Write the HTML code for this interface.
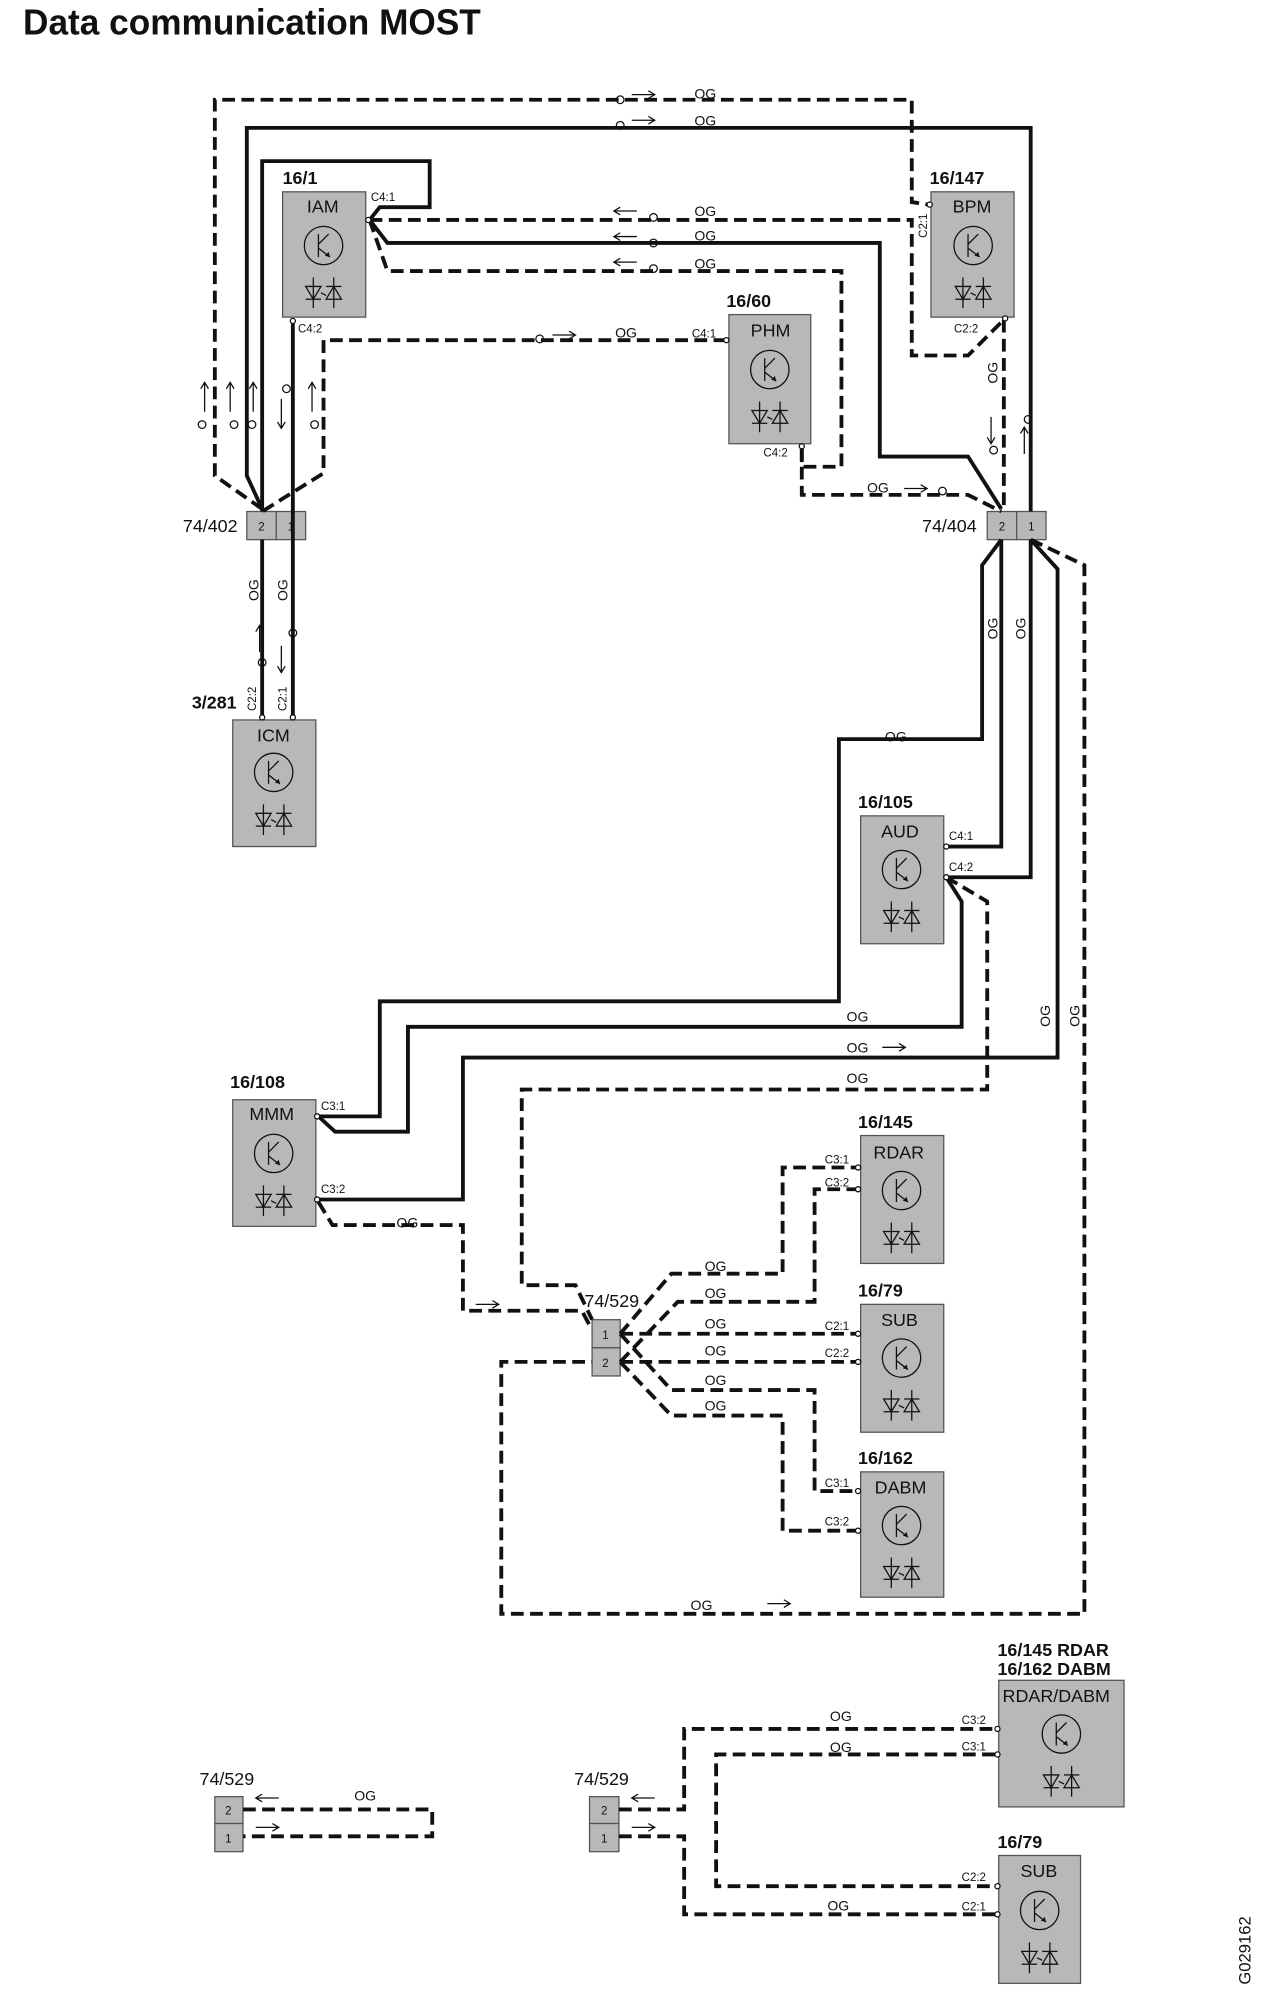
<!DOCTYPE html>
<html><head><meta charset="utf-8"><style>
html,body{margin:0;padding:0;background:#fff;}
svg{display:block;}
text{font-family:"Liberation Sans",sans-serif;fill:#111;}
.s{fill:none;stroke:#111;stroke-width:3;stroke-linejoin:miter;}
.d{fill:none;stroke:#111;stroke-width:3;stroke-dasharray:10 5;}
.box{fill:#b8b8b8;stroke:#555;stroke-width:1;}
.lab{font-size:11px;}
.pin{font-size:9px;}
.hd{font-size:14px;font-weight:bold;}
.nm{font-size:14px;}
.th{fill:none;stroke:#111;stroke-width:1;}
.pc{fill:#fff;stroke:#111;stroke-width:1;}
</style></head><body>
<svg width="1266" height="2000" viewBox="0 0 990 1564" xmlns="http://www.w3.org/2000/svg">
<defs>
<g id="ic">
<circle cx="0" cy="0" r="15" class="th"/>
<line x1="-4" y1="-9" x2="-4" y2="9" class="th"/>
<line x1="-4" y1="-1" x2="4" y2="-9" class="th"/>
<line x1="-4" y1="2" x2="5" y2="9" class="th"/>
<polygon points="5,9 1,8 4,5" fill="#111"/>
<g transform="translate(0,37)">
<line x1="-8" y1="-12" x2="-8" y2="12" class="th"/>
<line x1="8" y1="-12" x2="8" y2="12" class="th"/>
<polygon points="-14,-5 -2,-5 -8,5" class="th"/>
<line x1="-14" y1="5" x2="-2" y2="5" class="th"/>
<polygon points="2,5 14,5 8,-5" class="th"/>
<line x1="2" y1="-5" x2="14" y2="-5" class="th"/>
<line x1="-2" y1="0" x2="2" y2="2" class="th"/>
</g>
</g>
<path id="ar" d="M0,0 H18 M13,-3 L18,0 L13,3" class="th"/>
<path id="al" d="M0,0 H18 M5,-3 L0,0 L5,3" class="th"/>
</defs>

<text x="18" y="27" style="font-size:28px;font-weight:bold" textLength="358" lengthAdjust="spacingAndGlyphs">Data communication MOST</text>

<!-- Modules -->
<rect class="box" x="221" y="150" width="65" height="98"/>
<text class="hd" x="221" y="144">16/1</text><text class="nm" x="240" y="166">IAM</text>
<use href="#ic" x="253" y="192"/>

<rect class="box" x="728" y="150" width="65" height="98"/>
<text class="hd" x="727" y="144">16/147</text><text class="nm" x="745" y="166">BPM</text>
<use href="#ic" x="761" y="192"/>

<rect class="box" x="570" y="246" width="64" height="101"/>
<text class="hd" x="568" y="240">16/60</text><text class="nm" x="587" y="263">PHM</text>
<use href="#ic" x="602" y="289"/>

<rect class="box" x="182" y="563" width="65" height="99"/>
<text class="hd" x="150" y="554">3/281</text><text class="nm" x="201" y="580">ICM</text>
<use href="#ic" x="214" y="604"/>

<rect class="box" x="673" y="638" width="65" height="100"/>
<text class="hd" x="671" y="632">16/105</text><text class="nm" x="689" y="655">AUD</text>
<use href="#ic" x="705" y="680"/>

<rect class="box" x="182" y="860" width="65" height="99"/>
<text class="hd" x="180" y="851">16/108</text><text class="nm" x="195" y="876">MMM</text>
<use href="#ic" x="214" y="902"/>

<rect class="box" x="673" y="888" width="65" height="100"/>
<text class="hd" x="671" y="882">16/145</text><text class="nm" x="683" y="906">RDAR</text>
<use href="#ic" x="705" y="931"/>

<rect class="box" x="673" y="1020" width="65" height="100"/>
<text class="hd" x="671" y="1014">16/79</text><text class="nm" x="689" y="1037">SUB</text>
<use href="#ic" x="705" y="1062"/>

<rect class="box" x="673" y="1151" width="65" height="98"/>
<text class="hd" x="671" y="1145">16/162</text><text class="nm" x="684" y="1168">DABM</text>
<use href="#ic" x="705" y="1193"/>

<rect class="box" x="781" y="1314" width="98" height="99"/>
<text class="hd" x="780" y="1295">16/145 RDAR</text><text class="hd" x="780" y="1310">16/162 DABM</text>
<text class="nm" x="784" y="1331">RDAR/DABM</text>
<use href="#ic" x="830" y="1356"/>

<rect class="box" x="781" y="1451" width="64" height="100"/>
<text class="hd" x="780" y="1445">16/79</text><text class="nm" x="798" y="1468">SUB</text>
<use href="#ic" x="813" y="1494"/>

<!-- Connectors -->
<rect class="box" x="193" y="400" width="23" height="22"/><rect class="box" x="216" y="400" width="23" height="22"/>
<text class="pin" x="202" y="415">2</text><text class="pin" x="225" y="415">1</text>
<text class="nm" x="143" y="416">74/402</text>
<rect class="box" x="772" y="400" width="23" height="22"/><rect class="box" x="795" y="400" width="23" height="22"/>
<text class="pin" x="781" y="415">2</text><text class="pin" x="804" y="415">1</text>
<text class="nm" x="721" y="416">74/404</text>
<rect class="box" x="463" y="1032" width="22" height="22"/><rect class="box" x="463" y="1054" width="22" height="22"/>
<text class="pin" x="471" y="1047">1</text><text class="pin" x="471" y="1069">2</text>
<text class="nm" x="457" y="1022">74/529</text>
<rect class="box" x="168" y="1405" width="22" height="21"/><rect class="box" x="168" y="1426" width="22" height="22"/>
<text class="pin" x="176" y="1419">2</text><text class="pin" x="176" y="1441">1</text>
<text class="nm" x="156" y="1396">74/529</text>
<rect class="box" x="461" y="1405" width="23" height="21"/><rect class="box" x="461" y="1426" width="23" height="22"/>
<text class="pin" x="470" y="1419">2</text><text class="pin" x="470" y="1441">1</text>
<text class="nm" x="449" y="1396">74/529</text>

<!-- Top section wires -->
<path class="d" d="M205,398 L168,372 L168,78 L713,78 L713,158 L726,160"/>
<path class="s" d="M205,398 L193,372 L193,100 L806,100 L806,400"/>
<path class="s" d="M205,400 L205,126 L336,126 L336,162 L297,162 L289,172"/>
<path class="d" d="M289,172 L713,172 L713,278 L757,278 L785,250"/>
<path class="s" d="M289,172 L303,190 L688,190 L688,357 L757,357 L783,398"/>
<path class="d" d="M289,172 L303,212 L658,212 L658,365 L627,365 L627,350"/>
<path class="d" d="M627,350 L627,387 L757,387 L783,400"/>
<path class="d" d="M785,250 L785,400"/>
<path class="s" d="M229,250 L229,563"/>
<path class="s" d="M205,422 L205,563"/>
<path class="d" d="M568,266 L253,266 L253,370 L205,400"/>

<!-- pin labels top -->
<text class="pin" x="290" y="157">C4:1</text>
<text class="pin" x="233" y="260">C4:2</text>
<text class="pin" x="541" y="264">C4:1</text>
<text class="pin" x="597" y="357">C4:2</text>
<text class="pin" x="746" y="260">C2:2</text>
<text class="pin" transform="translate(725,186) rotate(-90)">C2:1</text>
<text class="pin" transform="translate(200,556) rotate(-90)">C2:2</text>
<text class="pin" transform="translate(224,556) rotate(-90)">C2:1</text>
<circle class="pc" cx="229" cy="251" r="2"/><circle class="pc" cx="288" cy="172" r="2"/>
<circle class="pc" cx="568" cy="266" r="2"/><circle class="pc" cx="627" cy="349" r="2"/>
<circle class="pc" cx="727" cy="160" r="2"/><circle class="pc" cx="786" cy="249" r="2"/>
<circle class="pc" cx="205" cy="561" r="2"/><circle class="pc" cx="229" cy="561" r="2"/>

<!-- OG labels -->
<g class="lab">
<text x="543" y="77">OG</text><text x="543" y="98">OG</text>
<text x="543" y="169">OG</text><text x="543" y="188">OG</text><text x="543" y="210">OG</text>
<text x="481" y="264">OG</text><text x="678" y="385">OG</text>
<text transform="translate(202,470) rotate(-90)">OG</text>
<text transform="translate(225,470) rotate(-90)">OG</text>
<text transform="translate(780,300) rotate(-90)">OG</text>
<text transform="translate(780,500) rotate(-90)">OG</text>
<text transform="translate(802,500) rotate(-90)">OG</text>
<text transform="translate(821,803) rotate(-90)">OG</text>
<text transform="translate(844,803) rotate(-90)">OG</text>
<text x="692" y="580">OG</text>
<text x="662" y="799">OG</text><text x="662" y="823">OG</text><text x="662" y="847">OG</text>
<text x="310" y="960">OG</text>
<text x="551" y="994">OG</text><text x="551" y="1015">OG</text><text x="551" y="1039">OG</text>
<text x="551" y="1060">OG</text><text x="551" y="1083">OG</text><text x="551" y="1103">OG</text>
<text x="540" y="1259">OG</text>
<text x="277" y="1408">OG</text>
<text x="649" y="1346">OG</text><text x="649" y="1370">OG</text><text x="647" y="1494">OG</text>
</g>
<!-- horizontal arrows -->
<use href="#ar" x="494" y="74"/><use href="#ar" x="494" y="94"/>
<use href="#al" x="480" y="165"/><use href="#al" x="480" y="185"/><use href="#al" x="480" y="205"/>
<use href="#ar" x="432" y="262"/><use href="#ar" x="707" y="382"/>
<use href="#ar" x="690" y="819"/><use href="#ar" x="372" y="1020"/><use href="#ar" x="600" y="1254"/>
<use href="#al" x="200" y="1406"/><use href="#ar" x="200" y="1429"/>
<use href="#al" x="494" y="1406"/><use href="#ar" x="494" y="1429"/>
<g class="th">
<circle cx="485" cy="78" r="3"/><circle cx="485" cy="98" r="3"/>
<circle cx="511" cy="170" r="3"/><circle cx="511" cy="190" r="3"/><circle cx="511" cy="210" r="3"/>
<circle cx="422" cy="265" r="3"/><circle cx="737" cy="384" r="3"/>
<circle cx="158" cy="332" r="3"/><circle cx="183" cy="332" r="3"/><circle cx="197" cy="332" r="3"/>
<circle cx="224" cy="304" r="3"/><circle cx="246" cy="332" r="3"/>
<circle cx="205" cy="518" r="3"/><circle cx="229" cy="495" r="3"/>
<circle cx="777" cy="352" r="3"/><circle cx="804" cy="328" r="3"/>
<path d="M160,300 V322 M157,304 L160,299 L163,304"/>
<path d="M180,300 V322 M177,304 L180,299 L183,304"/>
<path d="M198,300 V322 M195,304 L198,299 L201,304"/>
<path d="M220,312 V334 M217,330 L220,335 L223,330"/>
<path d="M244,300 V322 M241,304 L244,299 L247,304"/>
<path d="M203,490 V510 M200,494 L203,489 L206,494"/>
<path d="M220,505 V525 M217,521 L220,526 L223,521"/>
<path d="M775,326 V346 M772,342 L775,347 L778,342"/>
<path d="M801,335 V355 M798,339 L801,334 L804,339"/>
</g>

<!-- middle wires -->
<path class="s" d="M783,422 L768,442 L768,578 L656,578 L656,783 L297,783 L297,873 L249,873"/>
<path class="s" d="M740,686 L752,705 L752,803 L319,803 L319,885 L262,885 L249,873"/>
<path class="s" d="M806,422 L827,445 L827,827 L362,827 L362,938 L249,938"/>
<path class="d" d="M806,422 L848,442 L848,1262 L392,1262 L392,1065 L463,1065"/>
<path class="s" d="M783,422 L783,662 L740,662"/>
<path class="s" d="M806,422 L806,686 L740,686"/>
<path class="d" d="M740,686 L772,705 L772,852 L408,852 L408,1005 L450,1005 L463,1032"/>
<path class="d" d="M249,940 L260,958 L362,958 L362,1025 L455,1025 L463,1040"/>
<text class="pin" x="742" y="657">C4:1</text><text class="pin" x="742" y="681">C4:2</text>
<text class="pin" x="251" y="868">C3:1</text><text class="pin" x="251" y="933">C3:2</text>
<circle class="pc" cx="740" cy="662" r="2"/><circle class="pc" cx="740" cy="686" r="2"/>
<circle class="pc" cx="248" cy="873" r="2"/><circle class="pc" cx="248" cy="938" r="2"/>

<!-- fan-out -->
<path class="d" d="M485,1043 L525,996 L612,996 L612,913 L669,913"/>
<path class="d" d="M485,1065 L530,1018 L637,1018 L637,930 L669,930"/>
<path class="d" d="M485,1043 L669,1043"/>
<path class="d" d="M485,1065 L669,1065"/>
<path class="d" d="M485,1043 L525,1087 L637,1087 L637,1166 L669,1166"/>
<path class="d" d="M485,1065 L525,1107 L612,1107 L612,1197 L669,1197"/>
<text class="pin" x="645" y="910">C3:1</text><text class="pin" x="645" y="928">C3:2</text>
<text class="pin" x="645" y="1040">C2:1</text><text class="pin" x="645" y="1061">C2:2</text>
<text class="pin" x="645" y="1163">C3:1</text><text class="pin" x="645" y="1193">C3:2</text>
<circle class="pc" cx="671" cy="913" r="2"/><circle class="pc" cx="671" cy="930" r="2"/>
<circle class="pc" cx="671" cy="1043" r="2"/><circle class="pc" cx="671" cy="1065" r="2"/>
<circle class="pc" cx="671" cy="1166" r="2"/><circle class="pc" cx="671" cy="1197" r="2"/>

<!-- bottom -->
<path class="d" d="M190,1415 L338,1415 L338,1436 L190,1436"/>
<path class="d" d="M484,1415 L535,1415 L535,1352 L778,1352"/>
<path class="d" d="M484,1436 L535,1436 L535,1497 L778,1497"/>
<path class="d" d="M778,1372 L560,1372 L560,1475 L778,1475"/>
<text class="pin" x="752" y="1348">C3:2</text><text class="pin" x="752" y="1369">C3:1</text>
<text class="pin" x="752" y="1471">C2:2</text><text class="pin" x="752" y="1494">C2:1</text>
<circle class="pc" cx="780" cy="1352" r="2"/><circle class="pc" cx="780" cy="1372" r="2"/>
<circle class="pc" cx="780" cy="1475" r="2"/><circle class="pc" cx="780" cy="1497" r="2"/>

<text transform="translate(978,1552) rotate(-90)" style="font-size:13px">G029162</text>
</svg>
</body></html>
